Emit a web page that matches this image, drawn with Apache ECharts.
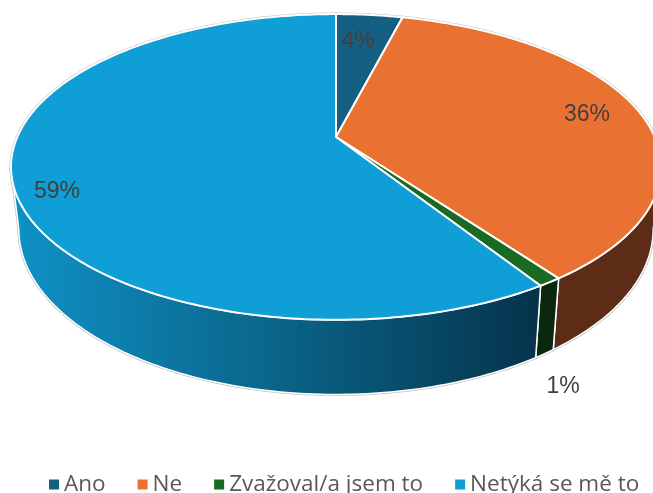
<!DOCTYPE html>
<html>
<head>
<meta charset="utf-8">
<style>
  html, body { margin: 0; padding: 0; background: #fff; }
  #chart { width: 653px; height: 493px; }
</style>
<script src="https://cdn.jsdelivr.net/npm/echarts@6/dist/echarts.min.js"></script>
</head>
<body>
<div id="chart"></div>
<script>
const categories = ['Ano', 'Ne', 'Zvažoval/a jsem to', 'Netýká se mě to']
const values = [4, 36, 1, 59]
const topColors = ['#156082', '#E97132', '#196B24', '#0F9ED5']
const sideColors = ['#0b3041', '#5c2c16', '#0a280e', null]

// where each percent label sits (not at mid angle, the original is a 3D pie)
const labelAt = [[358, 42], [587, 115], [563, 387], [57, 192]]

// perspective view of the disc
const cx = 336
const cy = 137
const persp = 0.196
const topPlane = { a: 318.7, b: 147, d: 0 }
const bottomPlane = { a: 311, b: 147, d: 60 }
const sideFrom = 101.3
const sideTo = 258.7

const total = values.reduce((sum, v) => sum + v, 0)

function project(deg, r, plane) {
  const t = deg * Math.PI / 180
  const u = r * Math.sin(t)
  const v = -r * Math.cos(t)
  const w = 1 - persp * v
  return [cx + plane.a * u / w, cy + (plane.b * v + plane.d) / w]
}

function arc(from, to, plane) {
  const pts = []
  const steps = Math.max(2, Math.ceil(Math.abs(to - from)))
  for (let i = 0; i <= steps; i++) {
    pts.push(project(from + (to - from) * i / steps, 1, plane))
  }
  return pts
}

function sideFill(index) {
  if (sideColors[index]) return sideColors[index]
  return new echarts.graphic.LinearGradient(20, 0, 536, 0, [
    { offset: 0, color: '#0e90c4' },
    { offset: 0.5, color: '#0a6488' },
    { offset: 1, color: '#05344c' }
  ], true)
}

function renderSlice(params, api) {
  const index = params.seriesIndex
  const start = values.slice(0, index).reduce((sum, v) => sum + v, 0) / total * 360
  const end = start + api.value(0) / total * 360
  const children = []

  const from = Math.max(start, sideFrom)
  const to = Math.min(end, sideTo)
  if (to > from) {
    const side = arc(from, to, topPlane).concat(arc(from, to, bottomPlane).reverse())
    children.push({
      type: 'polygon',
      z2: 0,
      shape: { points: side },
      style: { fill: 'none', stroke: 'rgba(120,120,120,0.45)', lineWidth: 3, lineJoin: 'round' }
    })
    children.push({
      type: 'polygon',
      z2: 1,
      shape: { points: side },
      style: { fill: sideFill(index), stroke: '#fff', lineWidth: 1.5, lineJoin: 'round' }
    })
  }

  const top = [project(0, 0, topPlane)].concat(arc(start, end, topPlane))
  children.push({
    type: 'polygon',
    z2: 0,
    shape: { points: top },
    style: { fill: 'none', stroke: 'rgba(120,120,120,0.45)', lineWidth: 3, lineJoin: 'round' }
  })
  children.push({
    type: 'polygon',
    z2: 2,
    shape: { points: top },
    style: { fill: topColors[index], stroke: '#fff', lineWidth: 2, lineJoin: 'round' }
  })
  children.push({
    type: 'text',
    z2: 3,
    style: {
      x: labelAt[index][0],
      y: labelAt[index][1],
      text: api.value(0) + '%',
      fill: '#404040',
      font: '23px "Liberation Sans"',
      align: 'center',
      verticalAlign: 'middle'
    }
  })
  return { type: 'group', children }
}

const chart = echarts.init(document.getElementById('chart'), null, { renderer: 'canvas' })
chart.setOption({
  animation: false,
  legend: {
    left: 49,
    top: 473,
    padding: 0,
    icon: 'rect',
    itemWidth: 10,
    itemHeight: 10,
    itemGap: 32,
    textStyle: { color: '#595959', fontSize: 22.5, fontFamily: 'Open Sans' },
    data: categories
  },
  series: categories.map((name, i) => ({
    name,
    type: 'custom',
    coordinateSystem: 'none',
    silent: true,
    itemStyle: { color: topColors[i] },
    renderItem: renderSlice,
    data: [[values[i]]]
  }))
})
</script>
</body>
</html>
